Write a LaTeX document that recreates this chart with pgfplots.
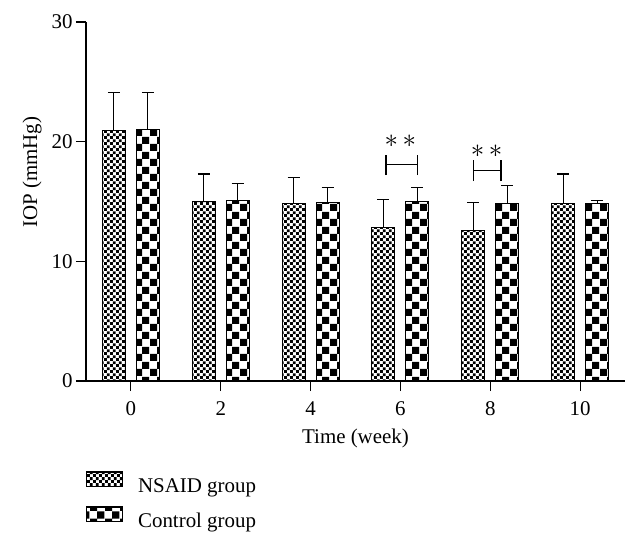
\RequirePackage{fix-cm}
\documentclass[border=0pt]{standalone}
\usepackage{fontspec}
\setmainfont{Liberation Serif}
\usepackage{pgfplots}
\usepackage{pgfplotstable}
\pgfplotsset{compat=1.18}
\usetikzlibrary{patterns}

\pgfdeclarepatternformonly{finecheck}{\pgfpointorigin}{\pgfqpoint{5.8bp}{5.8bp}}{\pgfqpoint{5.8bp}{5.8bp}}{%
 \pgfpathrectangle{\pgfpointorigin}{\pgfqpoint{2.9bp}{2.9bp}}%
 \pgfpathrectangle{\pgfqpoint{2.9bp}{2.9bp}}{\pgfqpoint{2.9bp}{2.9bp}}%
 \pgfusepath{fill}}
\pgfdeclarepatternformonly{coarsecheck}{\pgfpointorigin}{\pgfqpoint{15bp}{15bp}}{\pgfqpoint{15bp}{15bp}}{%
 \pgfpathrectangle{\pgfpointorigin}{\pgfqpoint{7.5bp}{7.5bp}}%
 \pgfpathrectangle{\pgfqpoint{7.5bp}{7.5bp}}{\pgfqpoint{7.5bp}{7.5bp}}%
 \pgfusepath{fill}}

\pgfplotstableread{
x y e
0 20.9 3.2
1 15.0 2.3
2 14.8 2.2
3 12.8 2.4
4 12.6 2.3
5 14.8 2.5
}\nsaid
\pgfplotstableread{
x y e
0 21.0 3.1
1 15.1 1.4
2 14.9 1.3
3 15.0 1.2
4 14.8 1.5
5 14.8 0.3
}\control

\newcommand{\txt}{\fontsize{21}{25}\selectfont}

\begin{document}
\begin{tikzpicture}
\useasboundingbox (-86bp,-160bp) rectangle (554bp,381bp);
\begin{axis}[
 scale only axis, width=539bp, height=359bp,
 xmin=-0.5, xmax=5.5, ymin=0, ymax=30,
 axis lines=left, axis line style={-, line width=1.1bp, black},
 ytick={0,10,20,30},
 xtick={0,1,2,3,4,5}, xticklabels={0,2,4,6,8,10},
 tick align=outside, major tick length=10bp,
 tick style={line width=1.1bp, black},
 font=\txt, tick label style={font=\txt},
 xticklabel style={yshift=-7bp},
 /pgf/number format/assume math mode=true,
 xlabel={Time (week)}, ylabel={IOP (mmHg)},
 xlabel style={yshift=-7bp},
 ylabel style={at={(ticklabel cs:0.582,3bp)}},
 legend style={at={(rel axis cs:0,-0.252)}, anchor=north west, draw=none, fill=none,
   inner sep=0pt, outer sep=0pt, row sep=12.5bp, font=\txt,
   nodes={inner sep=0pt},
   /tikz/every odd column/.append style={column sep=15bp}},
 legend cell align=left,
 mylegend/.style={legend image code/.code={\draw[##1, line width=1.1bp] (0bp,-0.5bp) rectangle (36bp,14.3bp);}},
]
\addplot[ybar, bar width=0.256, bar shift=0, draw=black, line width=1.1bp,
  pattern=finecheck, pattern color=black, mylegend,
  error bars/.cd, y dir=plus, y explicit,
  error bar style={line width=1.1bp, black},
  error mark options={line width=1.1bp, black, mark size=6bp, rotate=90}]
  table[x expr=\thisrow{x}-0.189, y=y, y error=e]{\nsaid};
\addlegendentry{NSAID group}
\addplot[ybar, bar width=0.256, bar shift=0, draw=black, line width=1.1bp,
  pattern=coarsecheck, pattern color=black, mylegend,
  error bars/.cd, y dir=plus, y explicit,
  error bar style={line width=1.1bp, black},
  error mark options={line width=1.1bp, black, mark size=6bp, rotate=90}]
  table[x expr=\thisrow{x}+0.189, y=y, y error=e]{\control};
\addlegendentry{Control group}
% significance brackets
\draw[line width=1.1bp] (axis cs:2.84,18.1) -- (axis cs:3.19,18.1);
\draw[line width=1.1bp] (axis cs:2.84,17.2) -- (axis cs:2.84,18.9);
\draw[line width=1.1bp] (axis cs:3.19,17.2) -- (axis cs:3.19,18.9);
\node[font=\fontsize{27}{30}\selectfont] at (axis cs:3.0,20.0) {$\ast\,\ast$};
\draw[line width=1.1bp] (axis cs:3.81,17.6) -- (axis cs:4.12,17.6);
\draw[line width=1.1bp] (axis cs:3.81,16.7) -- (axis cs:3.81,18.5);
\draw[line width=1.1bp] (axis cs:4.12,16.7) -- (axis cs:4.12,18.5);
\node[font=\fontsize{27}{30}\selectfont] at (axis cs:3.96,19.2) {$\ast\,\ast$};
\end{axis}
\end{tikzpicture}
\end{document}
